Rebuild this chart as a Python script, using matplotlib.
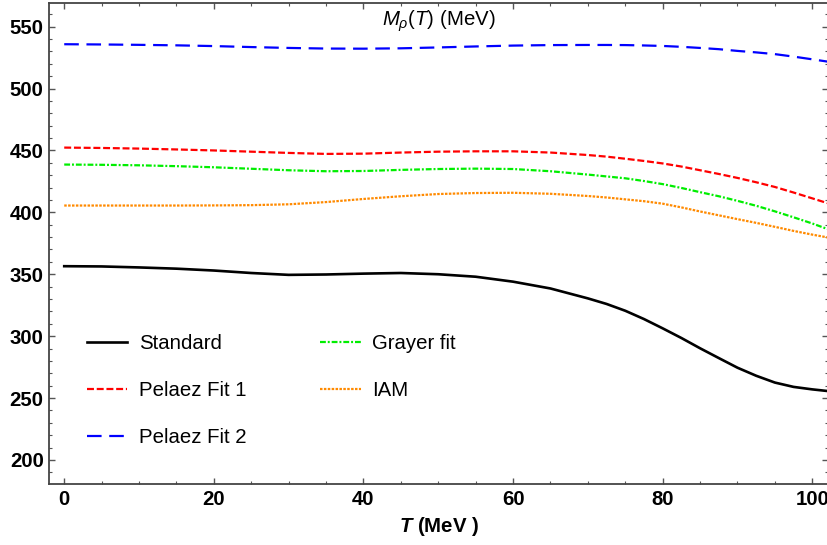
import matplotlib
matplotlib.use("Agg")
import matplotlib.pyplot as plt
from matplotlib.ticker import MultipleLocator

plt.rcParams['font.family'] = ['Liberation Sans', 'DejaVu Sans']
plt.rcParams['mathtext.fontset'] = 'custom'
plt.rcParams['mathtext.rm'] = 'Liberation Sans'
plt.rcParams['mathtext.it'] = 'Liberation Sans:italic'
plt.rcParams['mathtext.bf'] = 'Liberation Sans:bold'
plt.rcParams['mathtext.bfit'] = 'Liberation Sans:bold:italic'
plt.rcParams['lines.scale_dashes'] = False

# Temperature grid (MeV), finer where the curves bend
T = [0, 5, 10, 15, 20, 25, 30, 35, 40, 45, 50, 55, 60, 65, 70, 72.5, 75, 77.5, 80,
     82.5, 85, 87.5, 90, 92.5, 95, 97.5, 100, 102]

# Rho mass M_rho(T) in MeV for each parametrisation
standard = [356.5, 356.3, 355.5, 354.5, 353.0, 351.0, 349.5, 349.8, 350.5, 351.0, 350.0,
            348.0, 344.0, 338.5, 330.5, 326.0, 320.5, 313.8, 306.3,
            298.5, 290.2, 282.3, 274.5, 268.0, 262.5, 259.0, 257.0, 255.7]
pelaez_fit1 = [452.3, 452.0, 451.5, 450.8, 450.0, 449.0, 448.0, 447.2, 447.4, 448.3, 449.0,
               449.3, 449.3, 448.3, 446.3, 445.0, 443.3, 441.5, 439.5,
               437.0, 434.0, 431.0, 427.8, 424.3, 420.5, 416.0, 411.3, 407.5]
pelaez_fit2 = [535.8, 535.6, 535.3, 534.9, 534.3, 533.5, 532.8, 532.3, 532.2, 532.5, 533.2,
               534.0, 534.7, 535.1, 535.2, 535.2, 535.1, 534.8, 534.4,
               533.7, 532.8, 531.8, 530.4, 529.2, 527.8, 525.8, 523.6, 521.8]
grayer_fit = [438.6, 438.4, 438.0, 437.3, 436.4, 435.2, 434.0, 433.2, 433.4, 434.3, 435.0,
              435.3, 435.0, 433.2, 430.5, 429.0, 427.5, 425.3, 422.8,
              419.7, 416.3, 413.0, 409.3, 405.3, 400.8, 396.0, 391.0, 386.6]
iam = [405.5, 405.5, 405.5, 405.5, 405.6, 405.8, 406.5, 408.3, 410.8, 413.0, 414.8,
       415.6, 415.8, 415.0, 413.2, 412.0, 410.5, 409.0, 407.0,
       404.0, 400.7, 397.6, 394.5, 391.5, 388.3, 385.0, 382.0, 379.8]

fig = plt.figure(figsize=(8.28, 5.45), dpi=100)
ax = fig.add_axes([0.0595, 0.112, 0.9405, 0.8825])

ax.plot(T, standard, color='black', lw=1.9, label='Standard')
ax.plot(T, pelaez_fit1, color='#ff0000', lw=1.6, dashes=(5.0, 2.0), label='Pelaez Fit 1')
ax.plot(T, pelaez_fit2, color='#0000ff', lw=1.6, dashes=(10.5, 5.5), label='Pelaez Fit 2')
ax.plot(T, grayer_fit, color='#00ee00', lw=1.6, dashes=(4.2, 1.4, 1.4, 1.4), label='Grayer fit')
ax.plot(T, iam, color='#ff8a00', lw=1.6, dashes=(1.8, 1.0), label='IAM')

ax.set_xlim(-2.0, 102.1)
ax.set_ylim(180.6, 569.1)

ax.xaxis.set_major_locator(MultipleLocator(20))
ax.xaxis.set_minor_locator(MultipleLocator(5))
ax.yaxis.set_major_locator(MultipleLocator(50))
ax.yaxis.set_minor_locator(MultipleLocator(10))

ax.tick_params(which='both', direction='in', top=True, right=True, color='#555555')
ax.tick_params(which='major', length=4.0, width=1.0, labelsize=14.7, pad=4)
ax.tick_params(which='minor', length=2.2, width=0.8)
for lab in ax.get_xticklabels() + ax.get_yticklabels():
    lab.set_fontweight('bold')
for sp in ax.spines.values():
    sp.set_color('#444444')
    sp.set_linewidth(1.3)

ax.set_xlabel(r'$\mathbfit{T}$ (MeV )', fontsize=14.7, fontweight='bold', labelpad=5)
ax.text(50.1, 554.0, r'$M_\rho(T)$ (MeV)', fontsize=14.7, ha='center', va='center')

leg = ax.legend(ncol=2, loc='upper left', bbox_to_anchor=(0.048, 0.312), frameon=False,
                fontsize=14.7, handlelength=2.0, handletextpad=0.55, columnspacing=3.6,
                labelspacing=1.37, borderpad=0.0, borderaxespad=0.0)

fig.savefig('out.png', dpi=100)
